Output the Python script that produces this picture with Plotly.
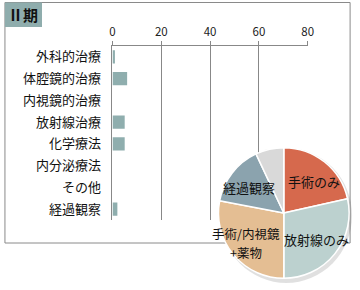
import plotly.graph_objects as go

# ---- data ----
categories = ["外科的治療", "体腔鏡的治療", "内視鏡的治療", "放射線治療",
              "化学療法", "内分泌療法", "その他", "経過観察"]
bar_values = [1, 6, 0, 5, 5, 0, 0, 2]
x_ticks = [0, 20, 40, 60, 80]

pie_labels = ["手術のみ", "放射線のみ", "手術/内視鏡<br>+薬物", "経過観察", "その他"]
pie_values = [21.5, 28.5, 28, 15, 7]
pie_text = ["手術のみ", "放射線のみ", "手術/内視鏡<br>+薬物", "経過観察", ""]
title_text = "Ⅱ期"

# ---- styles ----
W, H = 360, 290
def px(x): return x / W
def py(y): return 1 - y / H

FONT = "Noto Sans CJK JP"
bar_color = "#8FAEAE"
pie_colors = ["#D6694D", "#BCD1CF", "#E4BE93", "#8BA3AE", "#D9D9D9"]
label_pos = [(319, 181), (322, 239), (249, 243), (252, 187), None]
LINE_H = 18

fig = go.Figure()
fig.add_trace(go.Bar(
    x=bar_values, y=categories, orientation="h",
    marker=dict(color=bar_color, line=dict(width=0)),
    width=0.6, showlegend=False, hoverinfo="skip",
))
fig.add_trace(go.Pie(
    labels=pie_labels, values=pie_values, sort=False, direction="clockwise",
    rotation=0, textinfo="none", showlegend=False,
    marker=dict(colors=pie_colors, line=dict(color="white", width=1.5)),
    domain=dict(x=[px(221), px(355)], y=[py(280), py(146)]),
    hoverinfo="skip",
))

annotations = []
for t, pos in zip(pie_text, label_pos):
    if pos and t:
        lines = t.split("<br>")
        n = len(lines)
        for i, ln in enumerate(lines):
            yy = pos[1] + (i - (n - 1) / 2) * LINE_H
            annotations.append(dict(x=px(pos[0]), y=py(yy), xref="paper", yref="paper",
                                    text=ln, showarrow=False, borderpad=0,
                                    font=dict(family=FONT, size=12.5 if n > 1 else 13, color="#111"),
                                    xanchor="center", yanchor="middle", align="center"))
annotations.append(dict(x=px(21), y=py(15), xref="paper", yref="paper", text="<b>" + title_text + "</b>",
                        showarrow=False, font=dict(family=FONT, size=15, color="#111"),
                        xanchor="center", yanchor="middle"))

shapes = [
    dict(type="rect", xref="paper", yref="paper", x0=px(2), x1=px(356), y0=py(243), y1=py(2.5),
         line=dict(color="#8a8a8a", width=1), fillcolor="rgba(0,0,0,0)", layer="below"),
    dict(type="rect", xref="paper", yref="paper", x0=px(2), x1=px(40), y0=py(27), y1=py(2.5),
         line=dict(width=0), fillcolor="#8FADAD", layer="below"),
    dict(type="circle", xref="paper", yref="paper", x0=px(223), x1=px(358), y0=py(283), y1=py(148),
         line=dict(width=0), fillcolor="rgba(0,0,0,0.12)", layer="below"),
]

fig.update_layout(
    width=W, height=H, autosize=False,
    margin=dict(l=0, r=0, t=0, b=0),
    paper_bgcolor="white", plot_bgcolor="rgba(0,0,0,0)",
    font=dict(family=FONT, size=13, color="#111"),
    bargap=0.4,
    annotations=annotations, shapes=shapes,
    xaxis=dict(domain=[px(112.3), px(312.5)], range=[0, 80], side="top",
               tickvals=x_ticks, ticktext=[str(v) for v in x_ticks],
               showgrid=True, gridcolor="#888", gridwidth=1,
               showline=True, linecolor="#888", linewidth=1,
               ticks="outside", ticklen=4, tickcolor="#888",
               tickfont=dict(family=FONT, size=11.5, color="#222"), zeroline=False),
    yaxis=dict(domain=[py(220), py(46)], autorange="reversed", type="category",
               categoryorder="array", categoryarray=categories,
               showline=True, linecolor="#888", linewidth=1, showgrid=False,
               ticks="", ticklabelstandoff=8,
               tickfont=dict(family=FONT, size=13, color="#111")),
)

fig.write_html("out.html")
